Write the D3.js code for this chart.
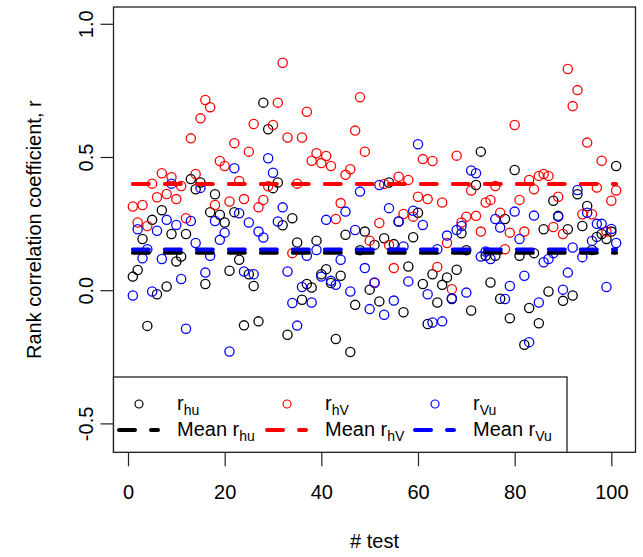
<!DOCTYPE html>
<html>
<head>
<meta charset="utf-8">
<script src="https://cdn.jsdelivr.net/npm/d3@7"></script>
<style>
  body { margin: 0; background: #fff; }
  text { font-family: "Liberation Sans", Arial, Helvetica, sans-serif; fill: #000; }
</style>
</head>
<body>
<svg id="chart" width="643" height="557"></svg>
<script>
// Test index for each rank correlation
const tests = d3.range(1, 102);

// r between h and u
const rHu = [0.051, 0.076, 0.192, -0.134, 0.264, -0.015, 0.30, 0.014, 0.211, 0.108,
  0.126, 0.211, 0.417, 0.379, 0.404, 0.023, 0.293, 0.36, 0.283, 0.254,
  0.073, 0.293, 0.114, -0.132, 0.06, 0.016, -0.117, 0.704, 0.604, 0.383,
  0.404, 0.244, -0.167, 0.27, 0.179, -0.036, 0.023, 0.01, 0.186, 0.06,
  0.079, 0.027, -0.183, 0.054, 0.208, -0.232, -0.055, 0.15, 0.22, 0.002,
  0.17, -0.042, 0.195, 0.404, 0.173, 0.258, -0.083, 0.089, 0.199, 0.291,
  0.023, -0.127, 0.06, -0.046, 0.02, 0.048, -0.033, 0.077, 0.214, 0.15,
  -0.076, 0.395, 0.52, 0.129, 0.029, 0.129, -0.032, 0.267, -0.105, 0.451,
  0.129, -0.205, -0.067, 0.139, -0.124, 0.229, -0.005, 0.336, 0.279, -0.04,
  0.229, -0.02, 0.36, 0.241, 0.316, 0.151, 0.2, 0.211, 0.192, 0.22, 0.466];

// r between h and V
const rHV = [0.314, 0.254, 0.32, 0.241, 0.40, 0.349, 0.439, 0.361, 0.424, 0.342,
  0.391, 0.27, 0.57, 0.436, 0.645, 0.714, 0.687, 0.32, 0.485, 0.466,
  0.333, 0.552, 0.41, 0.342, 0.52, 0.624, 0.311, 0.339, 0.39, 0.62,
  0.704, 0.854, 0.573, 0.139, 0.40, 0.573, 0.67, 0.486, 0.514, 0.477,
  0.504, 0.466, 0.267, 0.327, 0.433, 0.454, 0.599, 0.724, 0.52, 0.186,
  0.027, 0.252, 0.399, 0.17, 0.083, 0.426, 0.286, 0.414, 0.276, 0.351,
  0.492, 0.342, 0.485, 0.087, 0.329, 0.177, 0.004, 0.505, 0.254, 0.276,
  0.374, 0.279, 0.22, 0.329, 0.339, 0.391, 0.291, 0.154, 0.216, 0.62,
  0.339, 0.22, 0.414, 0.379, 0.429, 0.436, 0.429, 0.237, 0.351, 0.211,
  0.83, 0.691, 0.751, 0.285, 0.554, 0.285, 0.385, 0.486, 0.22, 0.336, 0.374];

// r between V and u
const rVu = [-0.02, 0.229, 0.12, 0.154, -0.005, 0.223, 0.117, 0.264, 0.40, 0.245,
  0.042, -0.145, 0.26, 0.177, 0.384, 0.066, 0.129, 0.26, 0.189, 0.216,
  -0.23, 0.458, 0.289, 0.07, 0.254, 0.06, 0.22, 0.198, 0.495, 0.441,
  0.258, 0.311, 0.07, -0.048, -0.133, 0.012, 0.129, -0.046, 0.151, 0.051,
  0.264, 0.035, 0.02, 0.114, 0.295, -0.005, 0.226, 0.37, 0.083, -0.071,
  0.029, 0.395, -0.092, 0.308, -0.039, 0.258, 0.164, 0.033, 0.298, 0.548,
  0.245, -0.015, -0.121, 0.154, -0.117, 0.205, -0.03, 0.226, 0.241, -0.009,
  0.449, 0.439, 0.126, 0.145, 0.117, 0.267, 0.235, -0.033, 0.016, 0.295,
  0.192, 0.054, -0.195, 0.28, -0.046, 0.105, 0.117, 0.139, 0.276, 0.002,
  0.066, 0.16, 0.376, 0.124, 0.291, 0.185, 0.249, 0.249, 0.012, 0.23, 0.177];

const xTicks = [0, 20, 40, 60, 80, 100];
const yTicks = [-0.5, 0.0, 0.5, 1.0];
const yTickLabels = ["-0.5", "0.0", "0.5", "1.0"];
const xTitle = "# test";
const yTitle = "Rank correlation coefficient, r";

const series = [
  { sub: "hu", values: rHu, color: "#000000" },
  { sub: "hV", values: rHV, color: "#ff0000" },
  { sub: "Vu", values: rVu, color: "#0000ff" }
];

const svg = d3.select("#chart");
const box = { left: 113.5, right: 635.5, top: 7, bottom: 452.3 };

const x = d3.scaleLinear().domain([-3, 105]).range([box.left, box.right]);
const y = d3.scaleLinear().domain([-0.6085, 1.063]).range([box.bottom, box.top]);

// Points
series.forEach(s => {
  svg.append("g")
    .selectAll("circle")
    .data(s.values)
    .join("circle")
    .attr("cx", (d, i) => x(tests[i]))
    .attr("cy", d => y(d))
    .attr("r", 4.6)
    .attr("fill", "none")
    .attr("stroke", s.color)
    .attr("stroke-width", 1.3);
});

// Mean lines
series.forEach(s => {
  const m = d3.mean(s.values);
  svg.append("line")
    .attr("x1", x(tests[0])).attr("x2", x(tests[tests.length - 1]))
    .attr("y1", y(m)).attr("y2", y(m))
    .attr("stroke", s.color)
    .attr("stroke-width", 4)
    .attr("stroke-dasharray", "16,16")
    .attr("stroke-linecap", "round");
});

// Axes
const yAxis = svg.append("g")
  .attr("transform", `translate(${box.left},0)`)
  .call(d3.axisLeft(y).tickValues(yTicks).tickSize(13)
    .tickFormat((d, i) => yTickLabels[i]));
yAxis.select(".domain").remove();
yAxis.selectAll(".tick line").attr("stroke", "#222").attr("stroke-width", 1.2);
yAxis.selectAll(".tick text")
  .attr("x", 0).attr("dy", 0)
  .attr("transform", "translate(-21,0) rotate(-90)")
  .attr("text-anchor", "middle")
  .style("font-size", "20px")
  .style("font-family", "'Liberation Sans', Arial, sans-serif")
  .attr("fill", "#000");

const xAxis = svg.append("g")
  .attr("transform", `translate(0,${box.bottom})`)
  .call(d3.axisBottom(x).tickValues(xTicks).tickSize(14).tickFormat(d3.format("d")));
xAxis.select(".domain").remove();
xAxis.selectAll(".tick line").attr("stroke", "#222").attr("stroke-width", 1.2);
xAxis.selectAll(".tick text")
  .attr("y", 47).attr("dy", 0)
  .style("font-size", "20px")
  .style("font-family", "'Liberation Sans', Arial, sans-serif")
  .attr("fill", "#000");

// Plot frame
svg.append("rect")
  .attr("x", box.left).attr("y", box.top)
  .attr("width", box.right - box.left).attr("height", box.bottom - box.top)
  .attr("fill", "none").attr("stroke", "#222").attr("stroke-width", 1.3);

// Titles
svg.append("text")
  .attr("x", (box.left + box.right) / 2).attr("y", 548)
  .attr("text-anchor", "middle").style("font-size", "20px")
  .text(xTitle);
svg.append("text")
  .attr("transform", `translate(41,${(box.top + box.bottom) / 2}) rotate(-90)`)
  .attr("text-anchor", "middle").style("font-size", "20px")
  .text(yTitle);

// Legend
const legend = svg.append("g");
legend.append("rect")
  .attr("x", box.left).attr("y", 377)
  .attr("width", 567 - box.left).attr("height", box.bottom - 377)
  .attr("fill", "#fff").attr("stroke", "#222").attr("stroke-width", 1.3);

const colX = [119, 267, 415];
const row1 = 404, row2 = 430;
series.forEach((s, k) => {
  const cx = colX[k];
  legend.append("circle")
    .attr("cx", cx + 20).attr("cy", row1).attr("r", 4)
    .attr("fill", "none").attr("stroke", s.color).attr("stroke-width", 1.2);
  const t1 = legend.append("text").attr("x", cx + 58).attr("y", row1 + 6).style("font-size", "20px");
  t1.append("tspan").text("r");
  t1.append("tspan").attr("dy", 5).style("font-size", "14px").text(s.sub);

  legend.append("line")
    .attr("x1", cx).attr("x2", cx + 39)
    .attr("y1", row2).attr("y2", row2)
    .attr("stroke", s.color).attr("stroke-width", 4)
    .attr("stroke-dasharray", "16,16").attr("stroke-linecap", "round");
  const t2 = legend.append("text").attr("x", cx + 58).attr("y", row2 + 6).style("font-size", "20px");
  t2.append("tspan").text("Mean r");
  t2.append("tspan").attr("dy", 5).style("font-size", "14px").text(s.sub);
});
</script>
</body>
</html>
